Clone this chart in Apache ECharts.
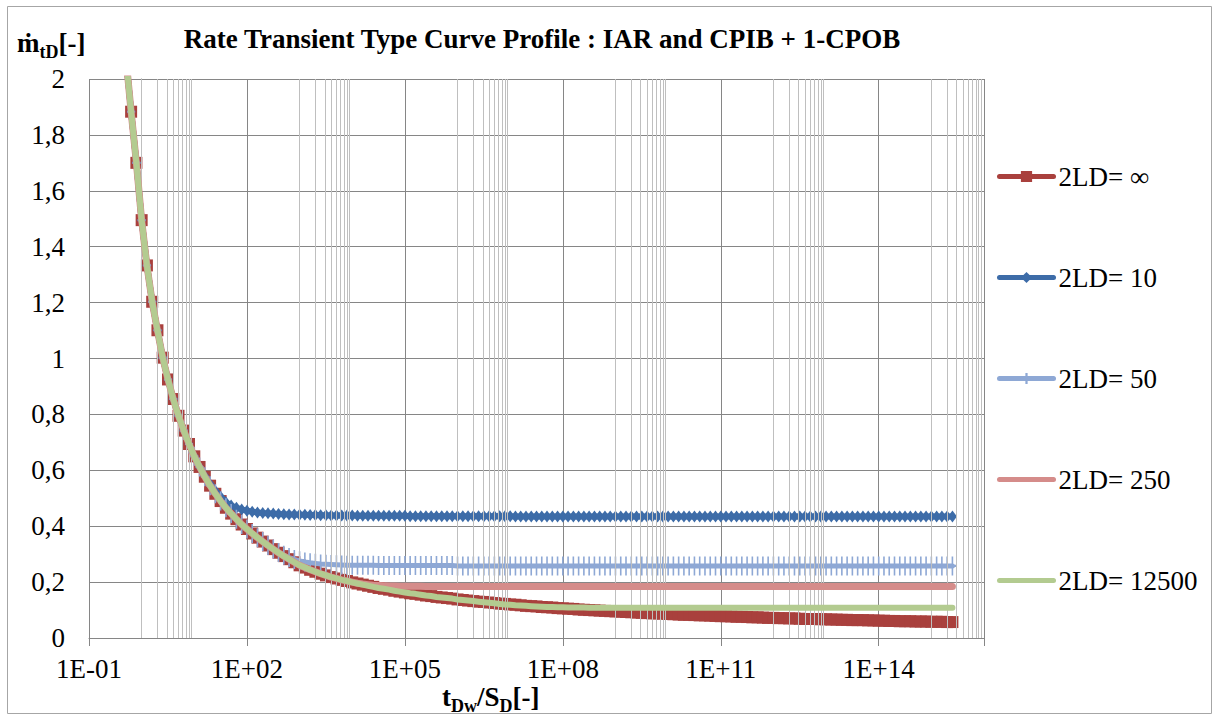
<!DOCTYPE html>
<html>
<head>
<meta charset="utf-8">
<script src="https://cdn.jsdelivr.net/npm/echarts@6/dist/echarts.min.js"></script>
<style>html,body{margin:0;padding:0;background:#fff}#c{width:1218px;height:716px}</style>
</head>
<body>
<div id="c"></div>
<script>
// log10 of t_Dw/S_D
const logTime = [
-0.3,-0.2,-0.1,0,0.1,0.2,0.3,0.4,0.5,0.6,
0.7,0.8,0.9,1,1.1,1.2,1.3,1.4,1.5,1.6,
1.7,1.8,1.9,2,2.1,2.2,2.3,2.4,2.5,2.6,
2.7,2.8,2.9,3,3.1,3.2,3.3,3.4,3.5,3.6,
3.7,3.8,3.9,4,4.1,4.2,4.3,4.4,4.5,4.6,
4.7,4.8,4.9,5,5.1,5.2,5.3,5.4,5.5,5.6,
5.7,5.8,5.9,6,6.1,6.2,6.3,6.4,6.5,6.6,
6.7,6.8,6.9,7,7.1,7.2,7.3,7.4,7.5,7.6,
7.7,7.8,7.9,8,8.1,8.2,8.3,8.4,8.5,8.6,
8.7,8.8,8.9,9,9.1,9.2,9.3,9.4,9.5,9.6,
9.7,9.8,9.9,10,10.1,10.2,10.3,10.4,10.5,10.6,
10.7,10.8,10.9,11,11.1,11.2,11.3,11.4,11.5,11.6,
11.7,11.8,11.9,12,12.1,12.2,12.3,12.4,12.5,12.6,
12.7,12.8,12.9,13,13.1,13.2,13.3,13.4,13.5,13.6,
13.7,13.8,13.9,14,14.1,14.2,14.3,14.4,14.5,14.6,
14.7,14.8,14.9,15,15.1,15.2,15.3,15.4
];

const seriesNames = ['2LD= \u221E', '2LD= 10', '2LD= 50', '2LD= 250', '2LD= 12500'];

const mInf = [
2.08,1.883,1.70,1.495,1.333,1.203,1.101,1.003,0.925,0.855,
0.795,0.742,0.694,0.650,0.612,0.577,0.545,0.516,0.490,0.466,
0.445,0.425,0.406,0.390,0.374,0.359,0.345,0.331,0.318,0.305,
0.293,0.282,0.271,0.260,0.252,0.244,0.237,0.230,0.224,0.218,
0.213,0.208,0.204,0.199,0.195,0.191,0.187,0.183,0.179,0.176,
0.173,0.169,0.166,0.163,0.160,0.158,0.155,0.152,0.150,0.147,
0.145,0.143,0.141,0.138,0.136,0.134,0.132,0.130,0.129,0.127,
0.125,0.123,0.122,0.120,0.119,0.117,0.115,0.114,0.113,0.111,
0.110,0.109,0.107,0.106,0.105,0.104,0.102,0.101,0.100,0.099,
0.098,0.097,0.096,0.095,0.094,0.093,0.092,0.091,0.090,0.089,
0.088,0.088,0.087,0.086,0.085,0.084,0.083,0.083,0.082,0.081,
0.081,0.080,0.079,0.078,0.078,0.077,0.076,0.076,0.075,0.074,
0.074,0.073,0.072,0.072,0.071,0.071,0.070,0.070,0.069,0.068,
0.068,0.068,0.067,0.067,0.066,0.066,0.065,0.065,0.064,0.064,
0.064,0.063,0.063,0.062,0.062,0.061,0.061,0.060,0.060,0.060,
0.059,0.059,0.059,0.058,0.058,0.058,0.057,0.057
];

const m10 = [
2.08,1.883,1.70,1.495,1.333,1.203,1.101,1.003,0.925,0.855,
0.795,0.742,0.694,0.650,0.612,0.580,0.551,0.526,0.505,0.486,
0.474,0.466,0.460,0.455,0.452,0.449,0.447,0.446,0.445,0.444,
0.443,0.442,0.442,0.441,0.441,0.440,0.440,0.439,0.439,0.438,
0.438,0.438,0.438,0.438,0.437,0.437,0.437,0.437,0.437,0.437,
0.437,0.437,0.437,0.437,0.436,0.436,0.436,0.436,0.436,0.436,
0.436,0.436,0.436,0.436,0.436,0.436,0.436,0.436,0.436,0.436,
0.436,0.436,0.436,0.436,0.435,0.435,0.435,0.435,0.435,0.435,
0.435,0.435,0.435,0.435,0.435,0.435,0.435,0.435,0.435,0.435,
0.435,0.435,0.435,0.435,0.435,0.435,0.435,0.435,0.435,0.435,
0.435,0.435,0.435,0.435,0.435,0.435,0.435,0.435,0.435,0.435,
0.435,0.435,0.435,0.435,0.435,0.435,0.435,0.435,0.435,0.435,
0.435,0.435,0.435,0.435,0.435,0.435,0.435,0.435,0.435,0.435,
0.435,0.435,0.435,0.435,0.435,0.435,0.435,0.435,0.435,0.435,
0.435,0.435,0.435,0.435,0.435,0.435,0.435,0.435,0.435,0.435,
0.435,0.435,0.435,0.435,0.435,0.435,0.435,0.435
];

const m50 = [
2.08,1.883,1.70,1.495,1.333,1.203,1.101,1.003,0.925,0.855,
0.795,0.742,0.694,0.650,0.612,0.577,0.545,0.516,0.490,0.466,
0.445,0.425,0.406,0.390,0.374,0.359,0.345,0.331,0.318,0.306,
0.296,0.288,0.281,0.276,0.272,0.269,0.267,0.265,0.264,0.263,
0.262,0.261,0.260,0.260,0.260,0.260,0.260,0.260,0.259,0.259,
0.259,0.259,0.259,0.259,0.259,0.259,0.259,0.259,0.259,0.259,
0.259,0.259,0.259,0.258,0.258,0.258,0.258,0.258,0.258,0.258,
0.258,0.258,0.258,0.258,0.258,0.258,0.258,0.258,0.258,0.258,
0.258,0.258,0.258,0.258,0.258,0.258,0.258,0.258,0.258,0.258,
0.258,0.258,0.258,0.258,0.258,0.258,0.258,0.258,0.258,0.258,
0.258,0.258,0.258,0.258,0.258,0.258,0.258,0.258,0.258,0.258,
0.258,0.258,0.258,0.258,0.258,0.258,0.258,0.258,0.258,0.258,
0.258,0.258,0.258,0.258,0.258,0.258,0.258,0.258,0.258,0.258,
0.258,0.258,0.258,0.258,0.258,0.258,0.258,0.258,0.258,0.258,
0.258,0.258,0.258,0.258,0.258,0.258,0.258,0.258,0.258,0.258,
0.258,0.258,0.258,0.258,0.258,0.258,0.258,0.258
];

const m250 = [
2.08,1.883,1.70,1.495,1.333,1.203,1.101,1.003,0.925,0.855,
0.795,0.742,0.694,0.650,0.612,0.577,0.545,0.516,0.490,0.466,
0.445,0.425,0.406,0.390,0.374,0.359,0.345,0.331,0.318,0.305,
0.293,0.282,0.271,0.260,0.252,0.244,0.237,0.230,0.224,0.218,
0.213,0.208,0.204,0.200,0.196,0.193,0.191,0.189,0.188,0.187,
0.186,0.186,0.185,0.185,0.185,0.185,0.185,0.184,0.184,0.184,
0.184,0.184,0.184,0.184,0.184,0.184,0.184,0.184,0.184,0.184,
0.184,0.184,0.184,0.184,0.184,0.184,0.184,0.184,0.184,0.184,
0.184,0.184,0.184,0.184,0.184,0.184,0.184,0.184,0.184,0.184,
0.184,0.184,0.184,0.184,0.184,0.184,0.184,0.184,0.184,0.184,
0.184,0.184,0.184,0.184,0.184,0.184,0.184,0.184,0.184,0.184,
0.184,0.184,0.184,0.184,0.184,0.184,0.184,0.184,0.184,0.184,
0.184,0.184,0.184,0.184,0.184,0.184,0.184,0.184,0.184,0.184,
0.184,0.184,0.184,0.184,0.184,0.184,0.184,0.184,0.184,0.184,
0.184,0.184,0.184,0.184,0.184,0.184,0.184,0.184,0.184,0.184,
0.184,0.184,0.184,0.184,0.184,0.184,0.184,0.184
];

const m12500 = [
2.08,1.883,1.70,1.495,1.333,1.203,1.101,1.003,0.925,0.855,
0.795,0.742,0.694,0.650,0.612,0.577,0.545,0.516,0.490,0.466,
0.445,0.425,0.406,0.390,0.374,0.359,0.345,0.331,0.318,0.305,
0.293,0.282,0.271,0.260,0.252,0.244,0.237,0.230,0.224,0.218,
0.213,0.208,0.204,0.199,0.195,0.191,0.187,0.183,0.179,0.176,
0.173,0.169,0.166,0.163,0.160,0.158,0.155,0.152,0.150,0.147,
0.145,0.143,0.141,0.138,0.136,0.134,0.132,0.130,0.128,0.126,
0.124,0.122,0.120,0.119,0.117,0.116,0.115,0.114,0.113,0.112,
0.111,0.111,0.110,0.110,0.109,0.109,0.109,0.109,0.108,0.108,
0.108,0.108,0.108,0.108,0.108,0.108,0.108,0.108,0.108,0.108,
0.108,0.108,0.108,0.108,0.108,0.108,0.108,0.108,0.108,0.108,
0.108,0.108,0.108,0.108,0.108,0.108,0.108,0.108,0.108,0.108,
0.108,0.108,0.108,0.108,0.108,0.108,0.108,0.108,0.108,0.108,
0.108,0.108,0.108,0.108,0.108,0.108,0.108,0.108,0.108,0.108,
0.108,0.108,0.108,0.108,0.108,0.108,0.108,0.108,0.108,0.108,
0.108,0.108,0.108,0.108,0.108,0.108,0.108,0.108
];

// axis ticks
const xMajorExp = [-1, 2, 5, 8, 11, 14];
const xTickLabels = ['1E-01', '1E+02', '1E+05', '1E+08', '1E+11', '1E+14'];
const yTickLabels = ['0', '0,2', '0,4', '0,6', '0,8', '1', '1,2', '1,4', '1,6', '1,8', '2'];

const colors = ['#A9403D', '#3D6CA8', '#8EA8D5', '#D58C8A', '#B3CB90'];
const FONT = "'Liberation Serif','Times New Roman',serif";

// minor gridline positions (Excel style: k*10^(n+1) inside each 3-decade band)
const minorPos = [];
xMajorExp.forEach(function (n) {
  for (let k = 1; k <= 9; k++) minorPos.push(n + 1 + Math.log10(k));
});

function pairs(arr) { return logTime.map(function (x, i) { return [x, arr[i]]; }); }

const chart = echarts.init(document.getElementById('c'), null, { renderer: 'svg' });

const baseLine = function (name, data, color, width, symbol, size, z) {
  return {
    name: name,
    type: 'line',
    z: z,
    data: pairs(data),
    symbol: symbol,
    symbolSize: size,
    showSymbol: symbol !== 'none',
    showAllSymbol: true,
    clip: true,
    lineStyle: { color: color, width: width, cap: 'round', join: 'round' },
    itemStyle: { color: color, borderWidth: 0 },
    emphasis: { disabled: true },
    silent: true,
    animation: false
  };
};

chart.setOption({
  animation: false,
  backgroundColor: '#ffffff',
  grid: { left: 89, right: 234, top: 79, bottom: 78, containLabel: false },
  xAxis: {
    type: 'value',
    min: -1,
    max: 16,
    interval: 3,
    axisLine: { show: true, lineStyle: { color: '#868686', width: 1 } },
    axisTick: { show: true, length: 8, lineStyle: { color: '#868686' } },
    axisLabel: {
      margin: 17,
      fontFamily: FONT, fontSize: 27, color: '#000',
      formatter: function (v) {
        const i = xMajorExp.indexOf(Math.round(v));
        return (i >= 0 && Math.abs(v - Math.round(v)) < 1e-6) ? xTickLabels[i] : '';
      }
    },
    splitLine: { show: true, lineStyle: { color: '#868686', width: 1 } }
  },
  yAxis: {
    type: 'value',
    min: 0,
    max: 2,
    interval: 0.2,
    axisLine: { show: true, lineStyle: { color: '#868686', width: 1 } },
    axisTick: { show: true, length: 8, lineStyle: { color: '#868686' } },
    axisLabel: {
      margin: 24,
      fontFamily: FONT, fontSize: 27, color: '#000',
      formatter: function (v) { return yTickLabels[Math.round(v / 0.2)]; }
    },
    splitLine: { show: true, lineStyle: { color: '#868686', width: 1 } }
  },
  legend: {
    orient: 'vertical',
    left: 997,
    top: 163,
    padding: 0,
    itemWidth: 54,
    itemHeight: 14,
    itemGap: 74,
    lineStyle: { width: 5, cap: 'round' },
    data: [
      { name: seriesNames[0] },
      { name: seriesNames[1] },
      { name: seriesNames[2] },
      { name: seriesNames[3], itemStyle: { color: 'rgba(0,0,0,0)', opacity: 0 } },
      { name: seriesNames[4], itemStyle: { color: 'rgba(0,0,0,0)', opacity: 0 } }
    ],
    textStyle: { fontFamily: FONT, fontSize: 27, color: '#000', lineHeight: 26 },
    selectedMode: false
  },
  graphic: [
    { type: 'rect', silent: true, z: -10,
      shape: { x: 7.5, y: 6.5, width: 1204, height: 707 },
      style: { fill: 'none', stroke: '#A6A6A6', lineWidth: 1 } },
    { type: 'text', silent: true, x: 542, y: 39,
      style: { text: 'Rate Transient Type Curve Profile : IAR and CPIB + 1-CPOB',
        fontFamily: FONT, fontSize: 27, fontWeight: 'bold', fill: '#000',
        align: 'center', verticalAlign: 'middle' } },
    { type: 'text', silent: true, x: 17, y: 25,
      style: { text: '{m|\u1E41}{s|tD}{m|[-]}',
        fill: '#000', align: 'left', verticalAlign: 'top',
        rich: {
          m: { fontFamily: FONT, fontSize: 27, fontWeight: 'bold', lineHeight: 36, verticalAlign: 'middle', fill: '#000' },
          s: { fontFamily: FONT, fontSize: 18, fontWeight: 'bold', lineHeight: 18, verticalAlign: 'bottom', fill: '#000' }
        } } },
    { type: 'text', silent: true, x: 442, y: 679,
      style: { text: '{m|t}{s|Dw}{m|/S}{s|D}{m|[-]}',
        fill: '#000', align: 'left', verticalAlign: 'top',
        rich: {
          m: { fontFamily: FONT, fontSize: 27, fontWeight: 'bold', lineHeight: 36, verticalAlign: 'middle', fill: '#000' },
          s: { fontFamily: FONT, fontSize: 18, fontWeight: 'bold', lineHeight: 18, verticalAlign: 'bottom', fill: '#000' }
        } } }
  ],
  series: [
    {
      name: 'minorGrid', type: 'line', data: [], silent: true, z: 1,
      markLine: {
        silent: true, animation: false, symbol: ['none', 'none'],
        label: { show: false },
        lineStyle: { color: '#BFBFBF', width: 1, type: 'solid' },
        emphasis: { disabled: true },
        data: minorPos.map(function (v) { return { xAxis: v }; })
      }
    },
    baseLine(seriesNames[0], mInf, colors[0], 6, 'rect', 12, 2),
    baseLine(seriesNames[1], m10, colors[1], 6, 'diamond', [9, 12], 3),
    baseLine(seriesNames[2], m50, colors[2], 5, 'path://M0,8h8v2H0z M3.2,0h1.6v18H3.2z', [8, 19], 4),
    baseLine(seriesNames[3], m250, colors[3], 7, 'none', 0, 5),
    baseLine(seriesNames[4], m12500, colors[4], 6, 'none', 0, 6)
  ]
});
</script>
</body>
</html>
